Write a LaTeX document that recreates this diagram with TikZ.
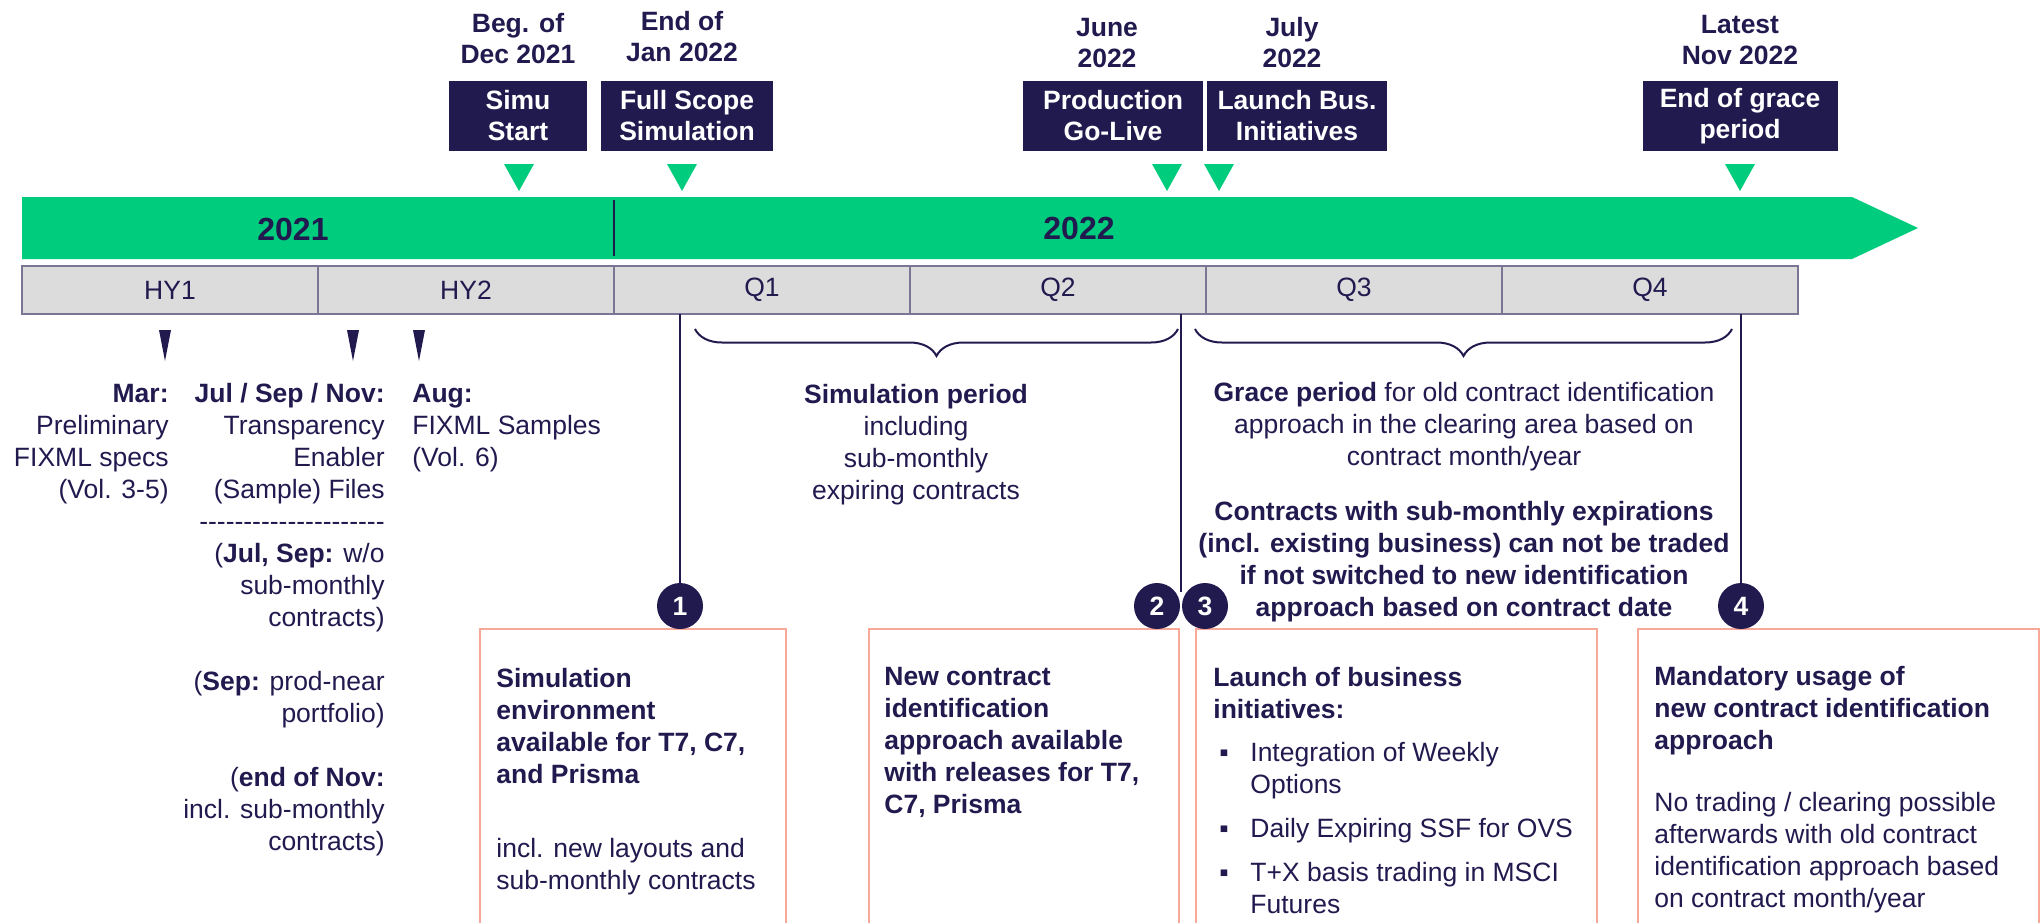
\documentclass[tikz,border=0pt]{standalone}
\usepackage{fontspec}
\setmainfont{Liberation Sans}
\usetikzlibrary{shapes, decorations.pathreplacing}
\definecolor{navy}{HTML}{211A4F}
\definecolor{mint}{HTML}{00CC7E}
\definecolor{salmon}{HTML}{F8A899}
\definecolor{bargray}{HTML}{DCDCDC}
\newcommand\hy{-\kern0pt}
\newcommand\itm{\makebox[18.5pt][l]{\hspace{3pt}▪}}

\begin{document}
\begin{tikzpicture}[x=0.5pt, y=-0.5pt]
    \tikzstyle{every node} = [inner sep=0, text=navy, font=\fontsize{13.25}{16}\selectfont]
    \tikzstyle{year} = [font=\bfseries\fontsize{16}{19}\selectfont]
    \tikzstyle{seg} = [draw=navy!60, line width=0.75pt, fill=bargray, minimum width=148pt, minimum height=24pt]
    \tikzstyle{mile} = [fill=navy, text=white, align=center, minimum height=35pt, font=\bfseries\fontsize{13.25}{15.5}\selectfont]
    \tikzstyle{head} = [anchor=north, align=center, font=\bfseries\fontsize{13.25}{15.5}\selectfont]
    \tikzstyle{num} = [circle, fill=navy, text=white, minimum size=23pt, font=\bfseries\fontsize{13.25}{16}\selectfont]
    \tikzstyle{card} = [draw=salmon, line width=0.8pt, anchor=north west, minimum height=160pt]
    \tikzstyle{brace} = [decorate, decoration={brace, amplitude=13.5pt}, navy, line width=1pt]
    \tikzstyle{link} = [navy, line width=1pt]
    \useasboundingbox (0,0) rectangle (2044,922);
    \clip (0,0) rectangle (2044,922);

    \fill [mint] (22,197) -- (1852,197) -- (1918,228) -- (1852,259) -- (22,259) -- cycle;
    \draw [link] (614,200) -- (614,256);
    \node [year] (y1) at (293,229) {2021};
    \node [year] (y2) at (1079,228) {2022};

    \node [seg] (hy1) at (170,290) {HY1};
    \node [seg] (hy2) at (466,290) {HY2};
    \node [seg] (q1) at (762,290) {Q1};
    \node [seg] (q2) at (1058,290) {Q2};
    \node [seg] (q3) at (1354,290) {Q3};
    \node [seg] (q4) at (1650,290) {Q4};

    \node [head] (d1) at (518,10) {\strut Beg. of\\Dec 2021};
    \node [head] (d2) at (682,8) {\strut End of\\Jan 2022};
    \node [head] (d3) at (1107,14) {\strut June\\2022};
    \node [head] (d4) at (1292,14) {\strut July\\2022};
    \node [head] (d5) at (1740,11) {\strut Latest\\Nov 2022};
    \node [mile, minimum width=69pt] (simu) at (518,116) {Simu\\Start};
    \node [mile, minimum width=86pt] (full) at (687,116) {Full Scope\\Simulation};
    \node [mile, minimum width=90pt] (prod) at (1113,116) {Production\\Go-Live};
    \node [mile, minimum width=90pt] (launch) at (1297,116) {Launch Bus.\\Initiatives};
    \node [mile, minimum width=97.5pt] (grace) at (1740,116) {End of grace\\period};
    \foreach \x in {519,682,1167,1219,1740}
        \fill [mint] (\x-15,164) -- (\x+15,164) -- (\x,191) -- cycle;
    \foreach \x in {165,353,419}
        \fill [navy] (\x-6,330) -- (\x+6,330) -- (\x,361) -- cycle;

    \node [anchor=north east, align=right] (mar) at (169,380) {\strut\textbf{Mar:}\\Preliminary\\FIXML specs\\(Vol. 3-5)};
    \node [anchor=north east, align=right] (jul) at (385,380) {\strut\textbf{Jul / Sep / Nov:}\\Transparency\\Enabler\\(Sample) Files\\\hy\hy\hy\hy\hy\hy\hy\hy\hy\hy\hy\hy\hy\hy\hy\hy\hy\hy\hy\hy\hy\\(\textbf{Jul, Sep:} w/o\\sub-monthly\\contracts)\\[16pt](\textbf{Sep:} prod-near\\portfolio)\\[16pt](\textbf{end of Nov:}\\incl. sub-monthly\\contracts)};
    \node [anchor=north west, align=left] (aug) at (412,380) {\strut\textbf{Aug:}\\FIXML Samples\\(Vol. 6)};

    \coordinate (s1) at (695,329);
    \coordinate (s2) at (1178,329);
    \draw [brace] (s2) -- (s1);
    \coordinate (g1) at (1195,329);
    \coordinate (g2) at (1732,329);
    \draw [brace] (g2) -- (g1);
    \node [anchor=north, align=center] (simtxt) at (916,381) {\strut\textbf{Simulation period}\\including\\sub-monthly\\expiring contracts};
    \node [anchor=north, align=center] (gracetxt) at (1464,379) {\strut\textbf{Grace period} for old contract identification\\approach in the clearing area based on\\contract month/year\\[11.5pt]\textbf{Contracts with sub-monthly expirations}\\\textbf{(incl. existing business) can not be traded}\\\textbf{if not switched to new identification}\\\textbf{approach based on contract date}};

    \node [card, minimum width=153pt] (b1) at (479,628) {};
    \node [card, minimum width=155pt] (b2) at (868,628) {};
    \node [card, minimum width=200.5pt] (b3) at (1195,628) {};
    \node [card, minimum width=200.5pt] (b4) at (1637,628) {};
    \node [anchor=north west, align=left] (b1txt) at (496,665) {\strut\textbf{Simulation}\\\textbf{environment}\\\textbf{available for T7, C7,}\\\textbf{and Prisma}\\[21pt]incl. new layouts and\\sub-monthly contracts};
    \node [anchor=north west, align=left] (b2txt) at (884,663) {\strut\textbf{New contract}\\\textbf{identification}\\\textbf{approach available}\\\textbf{with releases for T7,}\\\textbf{C7, Prisma}};
    \node [anchor=north west, align=left] (b3txt) at (1213,664) {\strut\textbf{Launch of business}\\\textbf{initiatives:}\\[5.5pt]\itm Integration of Weekly\\\hspace*{18.5pt}Options\\[6pt]\itm Daily Expiring SSF for OVS\\[6pt]\itm T+X basis trading in MSCI\\\hspace*{18.5pt}Futures};
    \node [anchor=north west, align=left] (b4txt) at (1654,663) {\strut\textbf{Mandatory usage of}\\\textbf{new contract identification}\\\textbf{approach}\\[15pt]No trading / clearing possible\\afterwards with old contract\\identification approach based\\on contract month/year};

    \coordinate (t2) at (1181,314);
    \coordinate (e2) at (1181,592);
    \draw [link] (t2) -- (e2);
    \node [num] (c1) at (680,606) {1};
    \node [num] (c2) at (1157,606) {2};
    \node [num] (c3) at (1205,606) {3};
    \node [num] (c4) at (1741,606) {4};
    \coordinate (t1) at (680,314);
    \coordinate (t3) at (1741,314);
    \draw [link] (t1) -- (c1);
    \draw [link] (t3) -- (c4);
\end{tikzpicture}
\end{document}
